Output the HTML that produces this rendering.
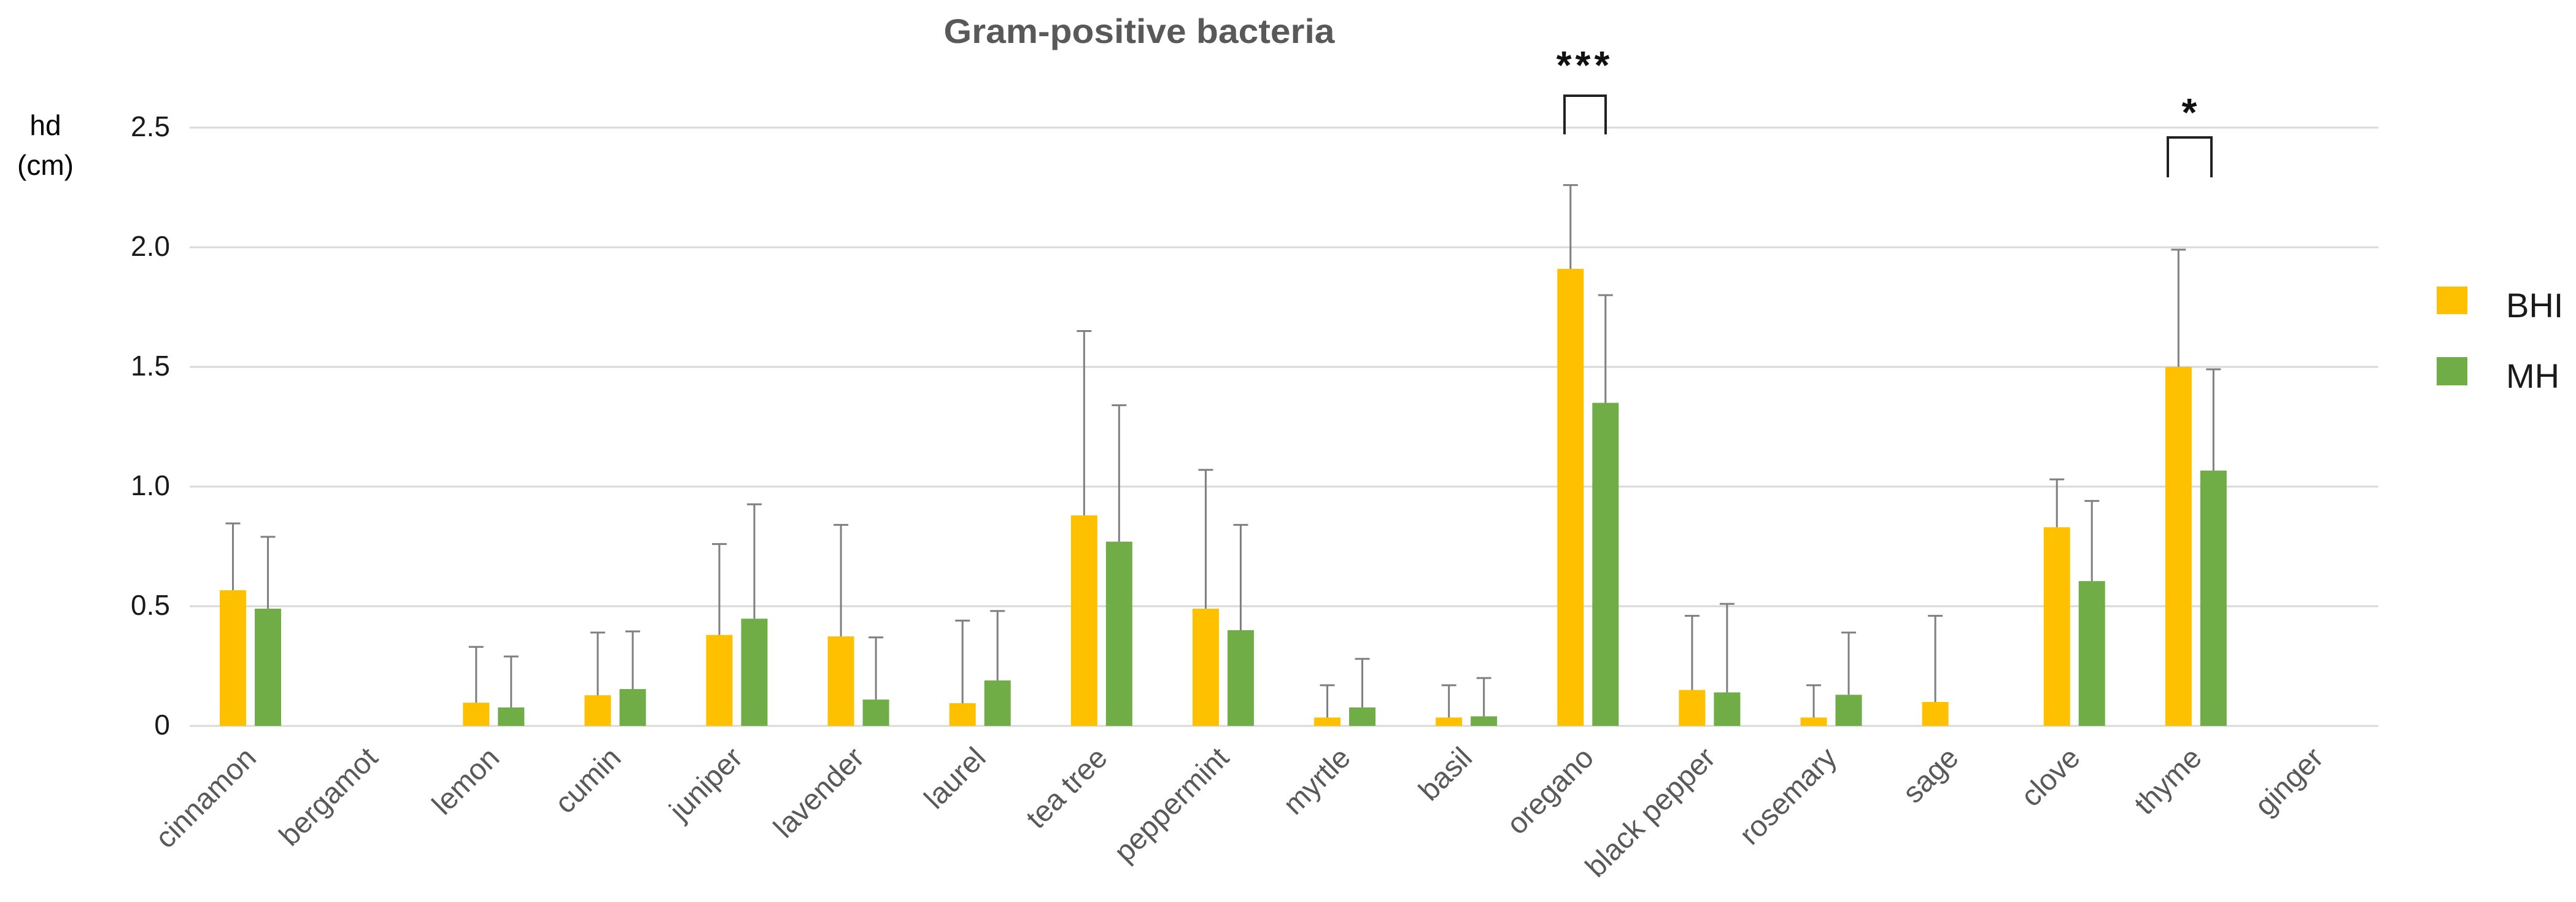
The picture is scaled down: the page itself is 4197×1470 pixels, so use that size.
<!DOCTYPE html>
<html><head><meta charset="utf-8"><style>
html,body{margin:0;padding:0;background:#fff;}
svg{display:block;font-family:"Liberation Sans",sans-serif;}
</style></head><body>
<svg id="chart" width="4197" height="1470" viewBox="0 0 4197 1470" xmlns="http://www.w3.org/2000/svg">
<text x="1856" y="70" text-anchor="middle" font-size="56" font-weight="bold" fill="#595959" textLength="637" lengthAdjust="spacingAndGlyphs">Gram-positive bacteria</text>
<text x="74" y="220" text-anchor="middle" font-size="46" fill="#000">hd</text>
<text x="74" y="285" text-anchor="middle" font-size="46" fill="#000">(cm)</text>
<g id="grid"></g><g id="bars"></g><g id="labels"></g>
<g>
<rect x="3970" y="467" width="50" height="45" fill="#ffc000"/>
<text x="4083" y="517" font-size="56" fill="#1a1a1a">BHI</text>
<rect x="3970" y="582" width="50" height="46" fill="#70ad47"/>
<text x="4083" y="632" font-size="56" fill="#1a1a1a">MH</text>
</g>
<g>
<path d="M2549 219 V156 H2616 V219" fill="none" stroke="#222" stroke-width="4"/>
<text x="2582" y="128" text-anchor="middle" font-size="64" font-weight="bold" fill="#111" letter-spacing="6">***</text>
</g>
<g>
<path d="M3532 289 V224 H3603 V289" fill="none" stroke="#222" stroke-width="4"/>
<text x="3567" y="205" text-anchor="middle" font-size="64" font-weight="bold" fill="#111">*</text>
</g>
</svg>
<script>
const categories = ["cinnamon","bergamot","lemon","cumin","juniper","lavender","laurel","tea tree","peppermint","myrtle","basil","oregano","black pepper","rosemary","sage","clove","thyme","ginger"];
const bhiValues = [0.567,0,0.097,0.128,0.38,0.374,0.095,0.88,0.49,0.035,0.035,1.91,0.15,0.035,0.10,0.83,1.50,0];
const bhiErrTop = [0.846,0,0.33,0.39,0.76,0.84,0.44,1.65,1.07,0.17,0.17,2.26,0.46,0.17,0.46,1.03,1.99,0];
const mhValues = [0.49,0,0.077,0.154,0.448,0.11,0.19,0.77,0.40,0.077,0.04,1.35,0.14,0.13,0,0.605,1.067,0];
const mhErrTop = [0.79,0,0.29,0.395,0.926,0.37,0.48,1.34,0.84,0.28,0.20,1.80,0.51,0.39,0,0.94,1.49,0];
const tickValues = [0,0.5,1.0,1.5,2.0,2.5];
const tickLabels = ["0","0.5","1.0","1.5","2.0","2.5"];

const NS = "http://www.w3.org/2000/svg";
const X0 = 309, X1 = 3875, Y0 = 1183, PX_PER_UNIT = 390;
const step = (X1 - X0) / categories.length;
const xCenter = i => X0 + step * (i + 0.5);
const yScale = v => Y0 - v * PX_PER_UNIT;
function mk(tag, attrs, parent){const e=document.createElementNS(NS,tag);for(const k in attrs)e.setAttribute(k,attrs[k]);parent.appendChild(e);return e;}

const grid = document.getElementById("grid");
tickValues.forEach((v,i)=>{
  const l = mk("line",{x1:X0,x2:X1,y1:yScale(v),y2:yScale(v),stroke:"#d9d9d9","stroke-width":3},grid);
  
  
  const t = mk("text",{x:277,y:yScale(v)+14,"text-anchor":"end","font-size":46,fill:"#1a1a1a"},grid);
  
  
  t.textContent = tickLabels[i];
});

const bars = document.getElementById("bars");
function drawErr(x, v, top){
  if (top <= v) return;
  const g = mk("path",{d:`M${x} ${yScale(v)} V${yScale(top)} M${x-12} ${yScale(top)} H${x+12}`,stroke:"#7f7f7f","stroke-width":3,fill:"none"},bars);
  
  
}
categories.forEach((c,i)=>{
  const cx = xCenter(i);
  if (bhiValues[i] > 0) {
    const r = mk("rect",{x:cx-50,y:yScale(bhiValues[i]),width:43,height:bhiValues[i]*PX_PER_UNIT,fill:"#ffc000"},bars);
    
    
  }
  drawErr(cx-28.5, bhiValues[i], bhiErrTop[i]);
  if (mhValues[i] > 0) {
    const r = mk("rect",{x:cx+7,y:yScale(mhValues[i]),width:43,height:mhValues[i]*PX_PER_UNIT,fill:"#70ad47"},bars);
    
    
  }
  drawErr(cx+28.5, mhValues[i], mhErrTop[i]);
});

const labels = document.getElementById("labels");
categories.forEach((c,i)=>{
  const x = xCenter(i)+12, y = 1238;
  const t = mk("text",{x:x,y:y,"text-anchor":"end","font-size":48,fill:"#595959",transform:`rotate(-45 ${x} ${y})`},labels);
  
  
  t.textContent = c;
});
</script>
</body></html>
